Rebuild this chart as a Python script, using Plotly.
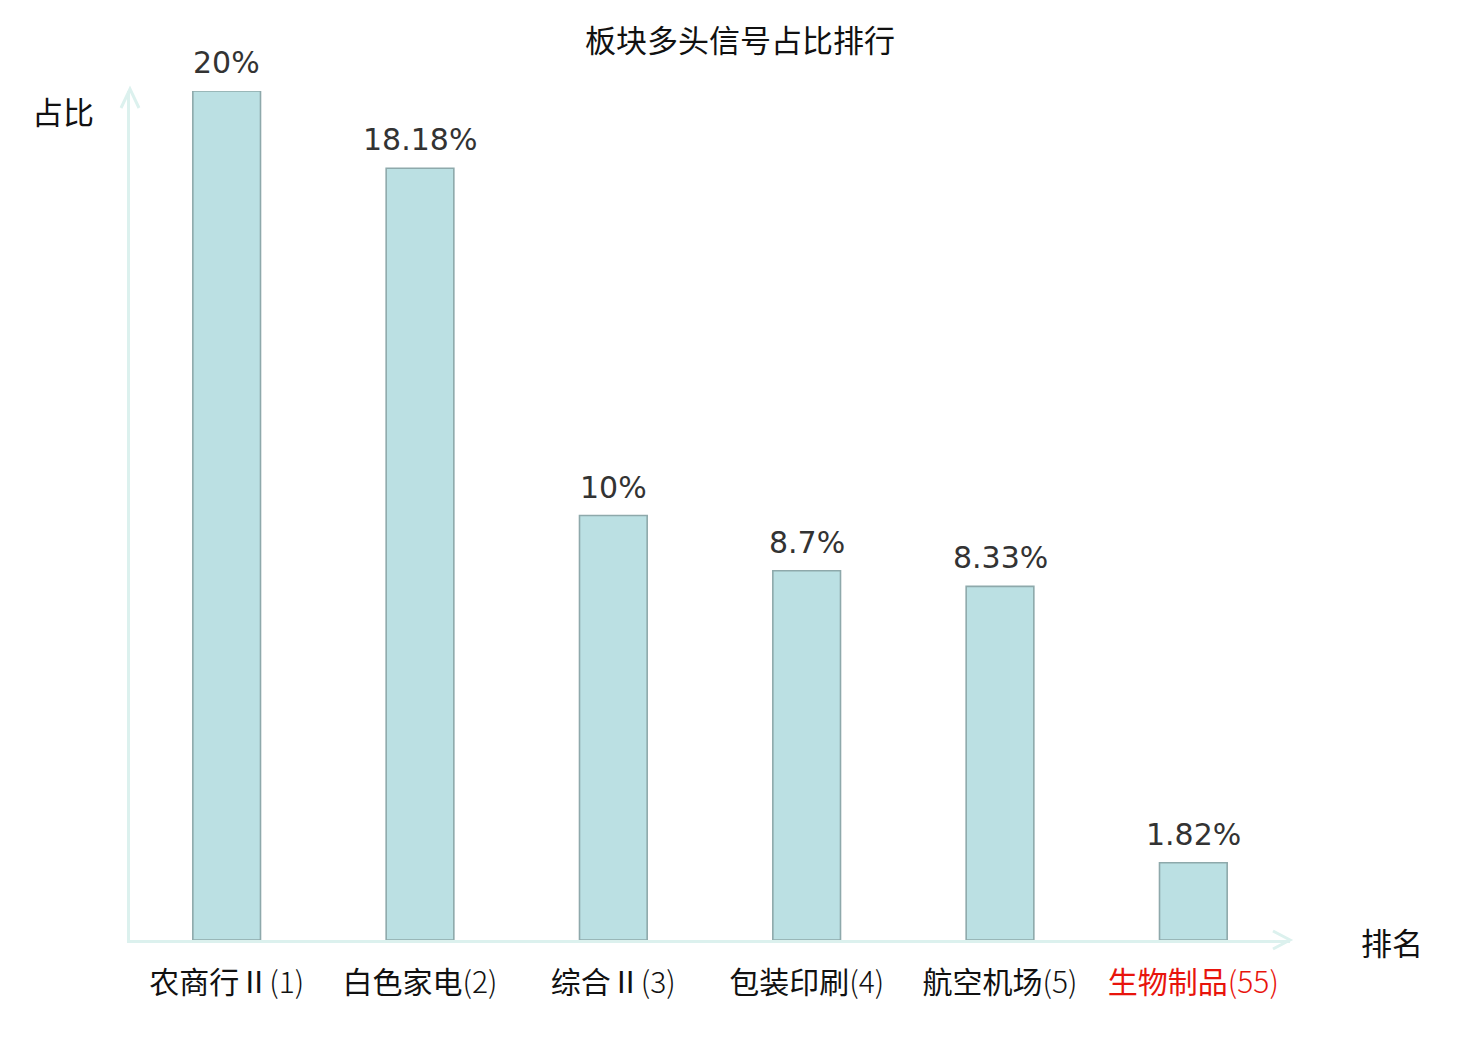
import plotly.graph_objects as go

# data
sectors = ["农商行Ⅱ", "白色家电", "综合Ⅱ", "包装印刷", "航空机场", "生物制品"]
ranks = [1, 2, 3, 4, 5, 55]
ratios = [20, 18.18, 10, 8.7, 8.33, 1.82]
ratio_labels = ["20%", "18.18%", "10%", "8.7%", "8.33%", "1.82%"]
highlight = "生物制品"

CJK = "Noto Sans CJK SC"
AXIS_COLOR = "#dcf1ee"

tick_text = []
for name, r in zip(sectors, ranks):
    label = f"{name}<span style='font-weight:300'>({r})</span>"
    if name == highlight:
        label = f"<span style='color:#e8140c'>{label}</span>"
    tick_text.append(label)

xs = list(range(len(sectors)))

fig = go.Figure()
fig.add_trace(go.Bar(
    x=xs,
    y=ratios,
    width=0.35,
    marker=dict(color="#bbe0e3", line=dict(color="#8ea9ab", width=1.6)),
    showlegend=False,
    hovertext=ratio_labels,
))

# value labels above the bars
annotations = [
    dict(x=x, y=v, text=t, xref="x", yref="y", yanchor="bottom", yshift=9, showarrow=False,
         font=dict(family="DejaVu Sans", size=30, color="#333333"))
    for x, v, t in zip(xs, ratios, ratio_labels)
]
annotations += [
    dict(text="占比", xref="paper", yref="paper", x=-0.0578, y=0.977, xanchor="center",
         yanchor="middle", showarrow=False,
         font=dict(family=CJK, size=31, color="#111111")),
    dict(text="排名", xref="paper", yref="paper", x=1.088, y=-0.002, xanchor="center",
         yanchor="middle", showarrow=False,
         font=dict(family=CJK, size=31, color="#111111")),
]

fig.update_layout(
    width=1480, height=1040,
    margin=dict(l=122, r=198, t=83, b=108),
    plot_bgcolor="white", paper_bgcolor="white",
    title=dict(text="板块多头信号占比排行", x=0.4946, xanchor="center", y=0.968, yanchor="middle",
               font=dict(family=CJK, size=31, color="#111111")),
    xaxis=dict(range=[-0.5, 5.5], tickvals=xs, ticktext=tick_text,
               showgrid=False, zeroline=False, showline=True, linecolor=AXIS_COLOR, linewidth=3,
               ticks="", ticklabelstandoff=14,
               tickfont=dict(family=CJK, size=30, color="#111111")),
    yaxis=dict(range=[0, 20], showgrid=False, zeroline=False, showline=True, linecolor=AXIS_COLOR,
               linewidth=3, showticklabels=False, ticks=""),
    annotations=annotations,
    shapes=[
        dict(type="path", xref="paper", yref="paper", xsizemode="pixel", ysizemode="pixel",
             xanchor=0, yanchor=1, path="M -9,-17 L 0,2 L 9,-17",
             line=dict(color=AXIS_COLOR, width=3)),
        dict(type="path", xref="paper", yref="paper", xsizemode="pixel", ysizemode="pixel",
             xanchor=1, yanchor=0, path="M -17,9 L 0,0 L -17,-9",
             line=dict(color=AXIS_COLOR, width=3)),
    ],
)

fig.write_html("out.html")
